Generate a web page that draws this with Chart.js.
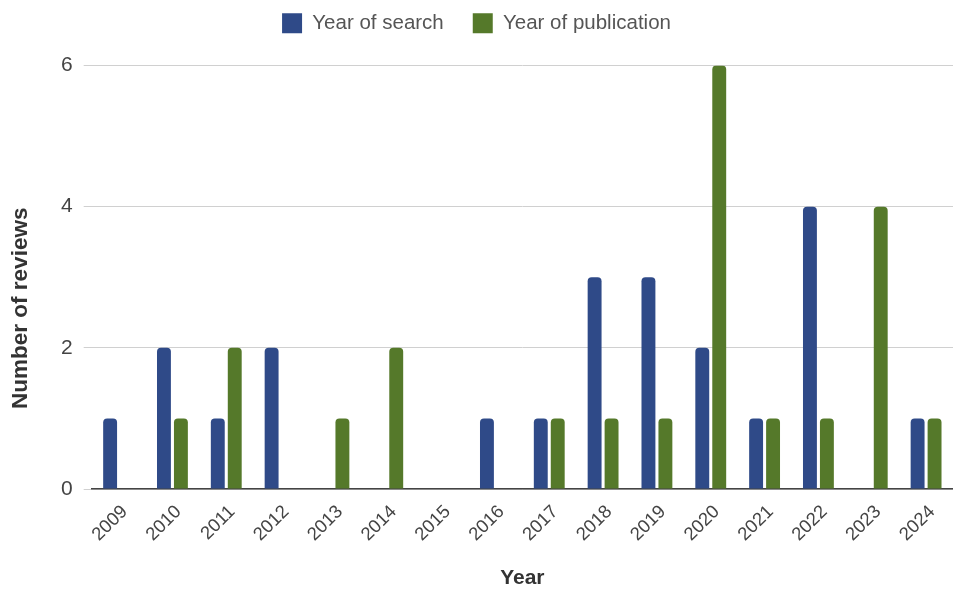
<!DOCTYPE html>
<html>
<head>
<meta charset="utf-8">
<script src="https://cdn.jsdelivr.net/npm/chart.js@4"></script>
<style>
    html, body { margin: 0; padding: 0; background: #fff; }
    #wrap { width: 953px; height: 591px; }
</style>
</head>
<body>
<div id="wrap"><canvas id="chartReviews"></canvas></div>
<script>
// Review counts per year
const years = ['2009', '2010', '2011', '2012', '2013', '2014', '2015', '2016',
               '2017', '2018', '2019', '2020', '2021', '2022', '2023', '2024'];
const yearOfSearch      = [1, 2, 1, 2, 0, 0, 0, 1, 1, 3, 3, 2, 1, 4, 0, 1];
const yearOfPublication = [0, 1, 2, 0, 1, 2, 0, 0, 1, 1, 1, 6, 1, 1, 4, 1];
const yTicks = [0, 2, 4, 6];
const yTitle = 'Number of reviews';

const fontFamily = '"Liberation Sans", Arial, sans-serif';

// Extra room under the legend
const legendGap = {
    id: 'legendGap',
    beforeInit(chart) {
        const origFit = chart.legend.fit;
        chart.legend.fit = function () {
            origFit.call(this);
            this.height += 22;
        };
    }
};

// Y axis title, drawn a little below the middle of the plot
const yAxisTitle = {
    id: 'yAxisTitle',
    afterDraw(chart) {
        const { ctx, chartArea } = chart;
        ctx.save();
        ctx.translate(21, (chartArea.top + chartArea.bottom) / 2 + 31);
        ctx.rotate(-Math.PI / 2);
        ctx.font = 'bold 22.5px ' + fontFamily;
        ctx.fillStyle = '#333';
        ctx.textAlign = 'center';
        ctx.textBaseline = 'middle';
        ctx.fillText(yTitle, 0, 0);
        ctx.restore();
    }
};

const ctx = document.getElementById('chartReviews').getContext('2d');
const chart = new Chart(ctx, {
    type: 'bar',
    data: {
        labels: years,
        datasets: [
            {
                label: 'Year of search',
                data: yearOfSearch,
                backgroundColor: '#2f4a88',
                borderRadius: 4,
                barPercentage: 0.82,
                categoryPercentage: 0.63
            },
            {
                label: 'Year of publication',
                data: yearOfPublication,
                backgroundColor: '#55792a',
                borderRadius: 4,
                barPercentage: 0.82,
                categoryPercentage: 0.63
            }
        ]
    },
    options: {
        responsive: true,
        maintainAspectRatio: false,
        animation: false,
        layout: { padding: { top: -16, right: 0, left: 0, bottom: 0 } },
        plugins: {
            legend: {
                display: true,
                position: 'top',
                labels: {
                    boxWidth: 20,
                    boxHeight: 20,
                    padding: 29,
                    color: '#555',
                    font: { family: fontFamily, size: 20.5 }
                }
            },
            tooltip: { enabled: false }
        },
        scales: {
            x: {
                grid: { display: false },
                border: { color: '#444', width: 1.5 },
                ticks: {
                    color: '#444',
                    maxRotation: 45,
                    minRotation: 45,
                    padding: 4,
                    labelOffset: 6,
                    font: { family: fontFamily, size: 18.5 }
                },
                title: {
                    display: true,
                    text: 'Year',
                    color: '#333',
                    font: { family: fontFamily, size: 21, weight: 'bold' },
                    padding: { top: 16, bottom: 0 }
                }
            },
            y: {
                min: 0,
                max: 6,
                afterBuildTicks: (axis) => {
                    axis.ticks = yTicks.map(v => ({ value: v }));
                },
                // leave space on the left for the rotated title
                afterFit: (axis) => {
                    axis.width += 50;
                },
                grid: { color: '#d0d0d0', tickLength: 8 },
                border: { display: false },
                ticks: {
                    color: '#444',
                    padding: 11,
                    font: { family: fontFamily, size: 21 }
                }
            }
        }
    },
    plugins: [legendGap, yAxisTitle]
});
</script>
</body>
</html>
